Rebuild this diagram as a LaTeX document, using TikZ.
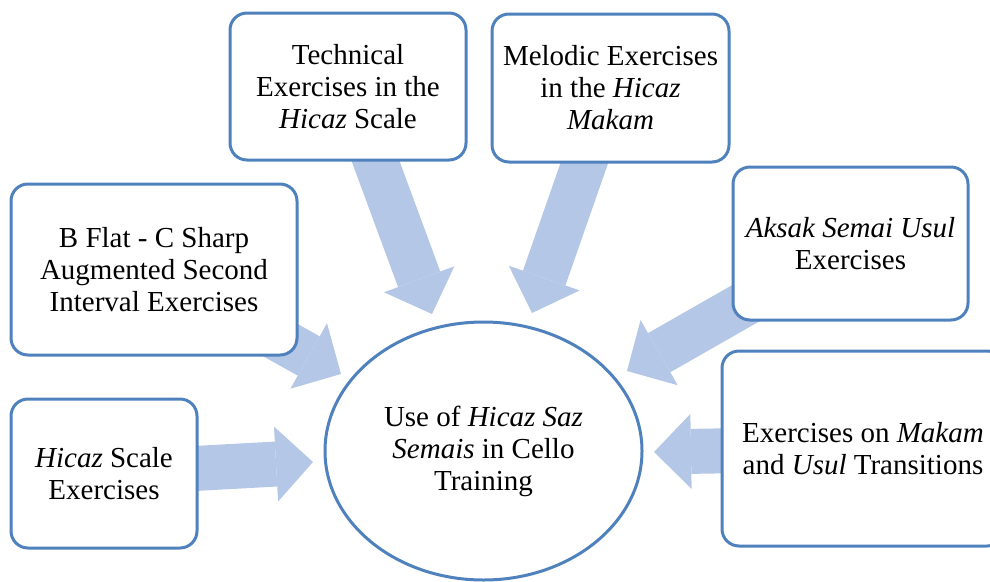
\documentclass[tikz,border=0pt]{standalone}
\usepackage{fontspec}
\setmainfont{Liberation Serif}
\usetikzlibrary{arrows.meta,shapes.geometric}
\definecolor{boxblue}{RGB}{79,129,189}
\definecolor{arrowblue}{RGB}{180,199,231}
\pgfdeclarelayer{bg}
\pgfsetlayers{bg,main}
\begin{document}
\begin{tikzpicture}[x=1pt,y=-1pt,
  txt/.style={font=\fontsize{29}{32}\selectfont},
  box/.style={txt,draw=boxblue,line width=3pt,fill=white,rounded corners=17pt,inner sep=0pt,align=center},
  hub/.style={txt,ellipse,draw=boxblue,line width=3pt,fill=white,inner sep=0pt,align=center},
  flow/.style={draw=arrowblue,line width=45pt,-{Triangle[width=75pt,length=37pt,line width=0pt]}}]
\useasboundingbox (0,0) rectangle (990,581);
\node[box,minimum width=236pt,minimum height=147pt] (b1) at (348,86.5) {Technical\\Exercises in the\\\textit{Hicaz} Scale};
\node[box,minimum width=237pt,minimum height=148pt] (b2) at (610.5,88) {Melodic Exercises\\in the \textit{Hicaz}\\\textit{Makam}};
\node[box,minimum width=286pt,minimum height=171pt] (b3) at (154,269.5) {B Flat - C Sharp\\Augmented Second\\Interval Exercises};
\node[box,minimum width=186pt,minimum height=149pt] (b4) at (104,473.5) {\textit{Hicaz} Scale\\Exercises};
\node[box,minimum width=235pt,minimum height=153pt] (b5) at (850.5,243.5) {\textit{Aksak Semai Usul}\\Exercises};
\node[box,minimum width=282pt,minimum height=195pt] (b6) at (863,448.5) {Exercises on \textit{Makam}\\and \textit{Usul} Transitions};
\node[hub,minimum width=317pt,minimum height=258pt] (c) at (483.5,451) {Use of \textit{Hicaz Saz}\\\textit{Semais} in Cello\\Training};
\coordinate (tA) at (432,314);
\coordinate (tB) at (532,313);
\coordinate (tC) at (341,374);
\coordinate (tD) at (313,462);
\coordinate (tE) at (627,371);
\coordinate (tF) at (654,452);
\begin{pgfonlayer}{bg}
\draw[flow] (b1.center) -- (tA);
\draw[flow] (b2.center) -- (tB);
\draw[flow] (b3.center) -- (tC);
\draw[flow] (b4.center) -- (tD);
\draw[flow] (b5.center) -- (tE);
\draw[flow] (b6.center) -- (tF);
\end{pgfonlayer}
\end{tikzpicture}
\end{document}
